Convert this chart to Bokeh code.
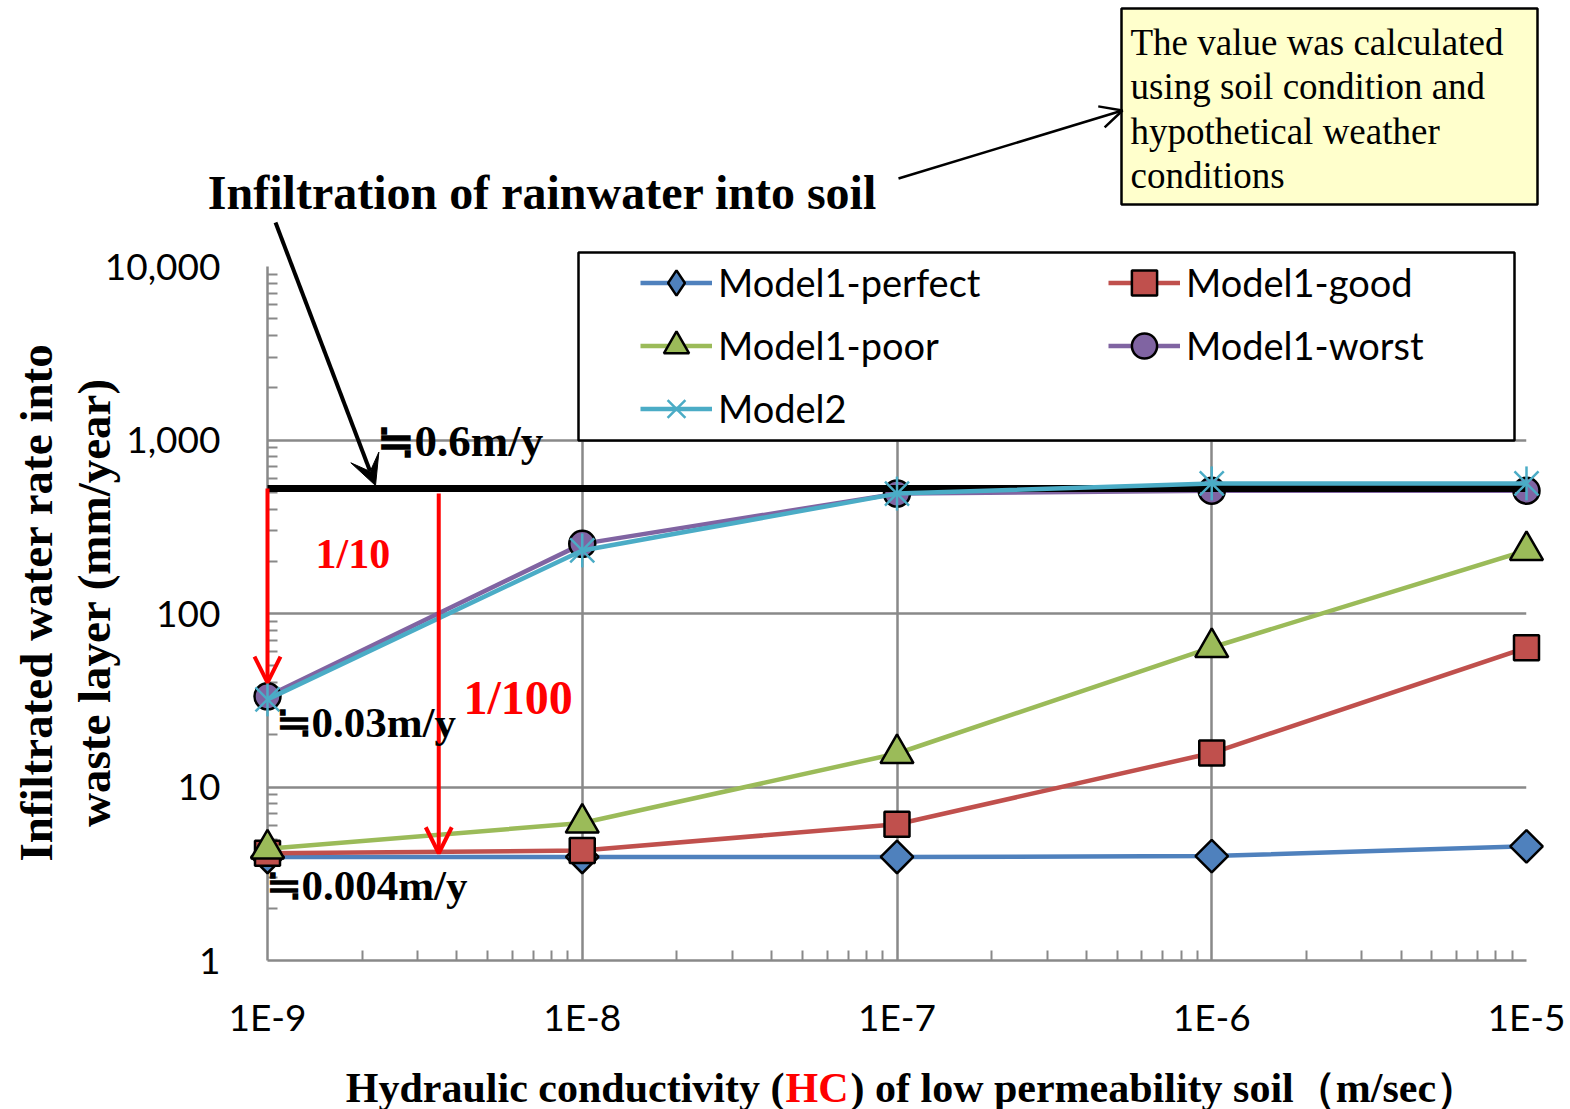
import numpy as np
from bokeh.plotting import figure
from bokeh.models import (Range1d, FixedTicker, NumeralTickFormatter, CustomJSTickFormatter, Column,
                          Label, Arrow, OpenHead, VeeHead, BoxAnnotation, Legend, LegendItem)
from bokeh.embed import file_html
from bokeh.resources import INLINE

# ---------------- data ----------------
hc = [1e-9, 1e-8, 1e-7, 1e-6, 1e-5]          # hydraulic conductivity (m/sec)
perfect = [3.95, 3.95, 3.95, 4.0, 4.55]
good = [4.15, 4.3, 6.1, 15.7, 63.5]
poor = [4.4, 6.2, 15.6, 63.7, 231]
worst = [33.3, 252, 491, 510, 510]
model2 = [32, 231, 491, 562, 562]
rain_infiltration = 526                       # infiltration of rainwater into soil (mm/year)
rain_x = [1e-9, 1e-5]

arrow10_x = 1e-9
arrow10_y = [526, 40]
arrow100_x = 3.5e-9
arrow100_y = [491, 4.15]

x_ticks = [1e-9, 1e-8, 1e-7, 1e-6, 1e-5]
y_ticks = [1, 10, 100, 1000, 10000]

names = ["Model1-perfect", "Model1-good", "Model1-poor", "Model1-worst", "Model2"]
colors = ["#4F81BD", "#C0504D", "#9BBB59", "#8064A2", "#4BACC6"]

# ---------------- geometry ----------------
W, H = 1570, 1109
FL, FR, FT, FB = 267, 1526, 266, 960   # plot frame in page pixels

# ---------------- base figure: axes and grid ----------------
p = figure(width=W, height=H, x_axis_type="log", y_axis_type="log",
           x_range=Range1d(x_ticks[0], x_ticks[-1]), y_range=Range1d(y_ticks[0], y_ticks[-1]),
           output_backend="svg", toolbar_location=None,
           min_border_left=FL, min_border_right=W - FR, min_border_top=FT, min_border_bottom=H - FB)
p.outline_line_color = None
p.background_fill_color = "white"
p.border_fill_color = "white"

x_minor = [k * 10.0 ** e for e in range(-9, -5) for k in range(2, 10)]
y_minor = [k * 10.0 ** e for e in range(0, 4) for k in range(2, 10)]
p.xaxis.ticker = FixedTicker(ticks=x_ticks, minor_ticks=x_minor)
p.yaxis.ticker = FixedTicker(ticks=y_ticks, minor_ticks=y_minor)
p.yaxis.formatter = NumeralTickFormatter(format="0,0")
p.xaxis.formatter = CustomJSTickFormatter(code="return '1E' + Math.round(Math.log10(tick));")

gray = "#898989"
for ax in (p.xaxis[0], p.yaxis[0]):
    ax.axis_line_color = gray
    ax.axis_line_width = 2.5
    ax.major_tick_in = 0
    ax.major_tick_out = 0
    ax.minor_tick_in = 10
    ax.minor_tick_out = 0
    ax.minor_tick_line_color = gray
    ax.minor_tick_line_width = 2
    ax.major_label_text_font = "Lato"
    ax.major_label_text_font_size = "37px"
    ax.major_label_text_color = "black"
p.yaxis.major_label_standoff = 47
p.xaxis.major_label_standoff = 33
p.xgrid.grid_line_color = gray
p.xgrid.grid_line_width = 2.5
p.ygrid.grid_line_color = gray
p.ygrid.grid_line_width = 2.5

# ---------------- overlay figure: same log scales over the whole page ----------------
xdec = (FR - FL) / 4.0
ydec = (FB - FT) / 4.0
q = figure(width=W, height=H, x_axis_type="log", y_axis_type="log",
           x_range=Range1d(10 ** (np.log10(x_ticks[0]) - FL / xdec), 10 ** (np.log10(x_ticks[-1]) + (W - FR) / xdec)),
           y_range=Range1d(10 ** (np.log10(y_ticks[0]) - (H - FB) / ydec), 10 ** (np.log10(y_ticks[-1]) + FT / ydec)),
           output_backend="svg", toolbar_location=None, x_axis_location=None, y_axis_location=None,
           min_border_left=0, min_border_right=0, min_border_top=0, min_border_bottom=0)
q.outline_line_color = None
q.background_fill_alpha = 0
q.border_fill_alpha = 0
q.grid.visible = False

# ---------------- series ----------------
lw = 4.5
ol = dict(line_color="black", line_width=2.5)

l_perf = q.line(hc, perfect, line_color=colors[0], line_width=lw)
q.scatter(hc, perfect, marker="square", angle=np.pi / 4, size=23, fill_color=colors[0], **ol)
m_perf_leg = q.scatter(hc, perfect, marker="diamond", size=30, fill_color=colors[0], visible=False, **ol)

l_good = q.line(hc, good, line_color=colors[1], line_width=lw)
m_good = q.scatter(hc, good, marker="square", size=25, fill_color=colors[1], **ol)

l_poor = q.line(hc, poor, line_color=colors[2], line_width=lw)
m_poor = q.scatter(hc, poor, marker="triangle", size=33, fill_color=colors[2], **ol)

l_worst = q.line(hc, worst, line_color=colors[3], line_width=lw)
m_worst = q.scatter(hc, worst, marker="circle", size=26, fill_color=colors[3], **ol)

q.line(rain_x, [rain_infiltration] * len(rain_x), line_color="black", line_width=7)

l_m2 = q.line(hc, model2, line_color=colors[4], line_width=lw)
m_m2a = q.scatter(hc, model2, marker="x", size=34, line_color=colors[4], line_width=2.5)
m_m2b = q.scatter(hc, model2, marker="dash", angle=np.pi / 2, size=34, line_color=colors[4], line_width=2.5)

# ---------------- red arrows ----------------
for ax_x, ax_y in ((arrow10_x, arrow10_y), (arrow100_x, arrow100_y)):
    q.add_layout(Arrow(end=OpenHead(size=26, line_color="red", line_width=4),
                       x_start=ax_x, y_start=ax_y[0], x_end=ax_x, y_end=ax_y[1],
                       line_color="red", line_width=4))

# ---------------- legend ----------------
S = dict(left_units="screen", right_units="screen", top_units="screen", bottom_units="screen")
q.add_layout(BoxAnnotation(left=578, right=1514, top=H - 252, bottom=H - 440, **S,
                           fill_color="white", fill_alpha=1.0, line_color="black", line_width=2.5, line_alpha=1.0))

leg_kw = dict(glyph_width=72, glyph_height=63, label_height=63, spacing=0, padding=0, margin=0,
              border_line_color=None, background_fill_alpha=0, label_text_font="Lato",
              label_text_font_size="38px", label_standoff=6, label_text_color="black",
              click_policy="none", inactive_fill_alpha=0)
leg1 = Legend(items=[LegendItem(label=names[0], renderers=[l_perf, m_perf_leg]),
                     LegendItem(label=names[2], renderers=[l_poor, m_poor]),
                     LegendItem(label=names[4], renderers=[l_m2, m_m2a, m_m2b])],
              location=(640, H - 439.5), **leg_kw)
leg2 = Legend(items=[LegendItem(label=names[1], renderers=[l_good, m_good]),
                     LegendItem(label=names[3], renderers=[l_worst, m_worst])],
              location=(1108, H - 376.5), **leg_kw)
q.add_layout(leg1)
q.add_layout(leg2)

# ---------------- note box ----------------
q.add_layout(BoxAnnotation(left=1121, right=1537, top=H - 8, bottom=H - 204, **S,
                           fill_color="#FFFFCC", fill_alpha=1.0, line_color="black", line_width=2.5, line_alpha=1.0))
note_lines = ["The value was calculated", "using soil condition and",
              "hypothetical weather", "conditions"]
for i, t in enumerate(note_lines):
    q.add_layout(Label(x=1130, y=H - (42 + 44.4 * i), x_units="screen", y_units="screen", text=t,
                       text_font="Liberation Serif", text_font_size="37px", text_color="black",
                       text_align="left", text_baseline="middle"))

q.add_layout(Arrow(end=OpenHead(size=22, line_color="black", line_width=2.5),
                   x_start=898, y_start=H - 178, x_end=1122, y_end=H - 110,
                   start_units="screen", end_units="screen", line_color="black", line_width=2.5))

# ---------------- title + arrow ----------------
q.add_layout(Label(x=542, y=H - 192, x_units="screen", y_units="screen",
                   text="Infiltration of rainwater into soil",
                   text_font="Liberation Serif", text_font_style="bold", text_font_size="48px",
                   text_align="center", text_baseline="middle", text_color="black"))
q.add_layout(Arrow(end=VeeHead(size=30, fill_color="black", line_color="black"),
                   x_start=275, y_start=H - 222, x_end=375, y_end=H - 485,
                   start_units="screen", end_units="screen", line_color="black", line_width=4))

# ---------------- annotations in plot ----------------
def lab(text, x, y, size, color="black", align="left"):
    q.add_layout(Label(x=x, y=H - y, x_units="screen", y_units="screen", text=text,
                       text_font="Liberation Serif", text_font_style="bold", text_font_size=size,
                       text_color=color, text_align=align, text_baseline="middle"))

lab("≒0.6m/y", 376, 440, "45px")
lab("1/10", 315, 553, "42px", "red")
lab("≒0.03m/y", 275, 722, "43px")
lab("1/100", 463, 697, "48px", "red")
lab("≒0.004m/y", 265, 885, "43px")

# ---------------- axis titles ----------------
for t, cx in (("Infiltrated water rate into", 35), ("waste layer (mm/year)", 93)):
    q.add_layout(Label(x=cx, y=H - 602, x_units="screen", y_units="screen", text=t, angle=np.pi / 2,
                       text_font="Liberation Serif", text_font_style="bold", text_font_size="47px",
                       text_color="black", text_align="center", text_baseline="middle"))

xl_y = H - 1087
q.add_layout(Label(x=784, y=xl_y, x_units="screen", y_units="screen", text="Hydraulic conductivity (",
                   text_font="Liberation Serif", text_font_style="bold", text_font_size="42px",
                   text_color="black", text_align="right", text_baseline="middle"))
q.add_layout(Label(x=785, y=xl_y, x_units="screen", y_units="screen", text="HC",
                   text_font="Liberation Serif", text_font_style="bold", text_font_size="42px",
                   text_color="red", text_align="left", text_baseline="middle"))
q.add_layout(Label(x=850, y=xl_y, x_units="screen", y_units="screen", text=") of low permeability soil（m/sec）",
                   text_font="Liberation Serif", text_font_style="bold", text_font_size="42px",
                   text_color="black", text_align="left", text_baseline="middle"))

page = Column(children=[Column(children=[p]), Column(children=[q], margin=(-H, 0, 0, 0))])
open("out.html", "w").write(file_html(page, INLINE))
